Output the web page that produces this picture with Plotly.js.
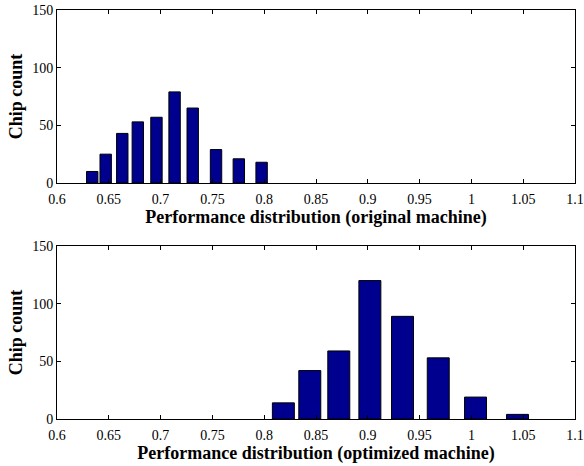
<!DOCTYPE html>
<html>
<head>
<meta charset="utf-8">
<script src="https://cdn.plot.ly/plotly-3.0.1.min.js"></script>
<style>html,body{margin:0;padding:0;background:#fff;}#chart{width:584px;height:466px;}</style>
</head>
<body>
<div id="chart"></div>
<script>
// Original machine performance distribution
const origPerf = [0.634, 0.647, 0.663, 0.678, 0.696, 0.7135, 0.731, 0.7535, 0.7755, 0.7975];
const origCount = [10, 25, 43, 53, 57, 79, 65, 29, 21, 18];
// Optimized machine performance distribution
const optPerf = [0.8185, 0.844, 0.872, 0.902, 0.9335, 0.968, 1.004, 1.0445];
const optCount = [14, 42, 59, 120, 89, 53, 19, 4];
// Axis ticks
const xTicks = [0.6, 0.65, 0.7, 0.75, 0.8, 0.85, 0.9, 0.95, 1, 1.05, 1.1];
const xTickLabels = ["0.6", "0.65", "0.7", "0.75", "0.8", "0.85", "0.9", "0.95", "1", "1.05", "1.1"];
const yTicks = [0, 50, 100, 150];
const yTickLabels = ["0", "50", "100", "150"];

const barColor = "#00008F";
const serif = "Liberation Serif, Times New Roman, serif";

const traces = [
  {type: "bar", x: origPerf, y: origCount, width: 0.011, xaxis: "x", yaxis: "y",
   marker: {color: barColor, line: {color: "#000", width: 1}}, showlegend: false},
  {type: "bar", x: optPerf, y: optCount, width: 0.0212, xaxis: "x2", yaxis: "y2",
   marker: {color: barColor, line: {color: "#000", width: 1}}, showlegend: false}
];

function xax(anchor, title) {
  return {
    anchor: anchor, range: [0.6, 1.1], tickvals: xTicks, ticktext: xTickLabels,
    ticks: "inside", ticklen: 4, tickcolor: "#000", showline: true, linecolor: "#000", linewidth: 1,
    mirror: "ticks", showgrid: false, zeroline: false, ticklabelstandoff: 3,
    tickfont: {family: serif, size: 14, color: "#000"},
    title: {text: title, font: {family: serif, size: 18, color: "#000"}, standoff: 4}
  };
}
function yax(anchor, domain) {
  return {
    anchor: anchor, domain: domain, range: [0, 150], tickvals: yTicks, ticktext: yTickLabels,
    ticks: "inside", ticklen: 4, tickcolor: "#000", showline: true, linecolor: "#000", linewidth: 1,
    mirror: "ticks", showgrid: false, zeroline: false,
    tickfont: {family: serif, size: 14, color: "#000"},
    title: {text: "<b>Chip count</b>", font: {family: serif, size: 18, color: "#000"}, standoff: 4}
  };
}

const layout = {
  width: 584, height: 466,
  margin: {l: 57, r: 9, t: 10, b: 47},
  paper_bgcolor: "#fff", plot_bgcolor: "#fff",
  bargap: 0,
  xaxis: xax("y", "<b>Performance distribution (original machine)</b>"),
  yaxis: yax("x", [0.577, 1]),
  xaxis2: xax("y2", "<b>Performance distribution (optimized machine)</b>"),
  yaxis2: yax("x2", [0, 0.423])
};

Plotly.newPlot("chart", traces, layout, {displayModeBar: false, staticPlot: true});
</script>
</body>
</html>
